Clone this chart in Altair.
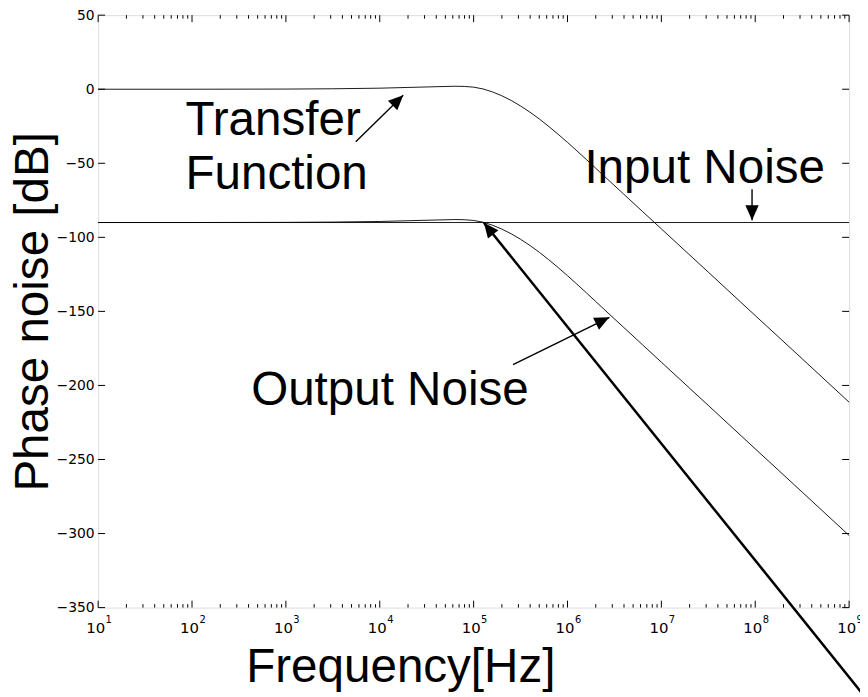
import math
import altair as alt
import pandas as pd

# ---------------- data ----------------
W, H = 758, 598
X_DOMAIN = [10, 1e9]
Y_DOMAIN = [-350, 50]

freq_exp = [1, 2, 3, 3.5, 4, 4.3, 4.6, 4.8, 4.9, 5.0, 5.1, 5.2, 5.3, 5.4, 5.5,
            5.6, 5.7, 5.8, 5.9, 6.0, 6.1, 6.2, 6.3, 6.4, 6.6, 6.8, 7.0, 7.5,
            8.0, 8.5, 9.0]
transfer_db = [0, 0, 0.1, 0.3, 0.7, 1.2, 1.7, 2.0, 1.9, 1.4, 0.2, -1.8, -4.4,
               -7.6, -11.3, -15.5, -20.1, -25.1, -30.4, -35.9, -41.6, -47.4,
               -53.3, -59.2, -70.9, -82.6, -94.3, -123.5, -152.8, -182.0, -211.3]
output_db = [-90, -90, -89.9, -89.7, -89.3, -88.8, -88.3, -88.0, -88.1, -88.6,
             -89.8, -91.8, -94.4, -97.6, -101.3, -105.5, -110.1, -115.1, -120.4,
             -125.9, -131.6, -137.4, -143.3, -149.2, -160.9, -172.6, -184.3,
             -213.5, -242.8, -272.0, -301.3]
input_freq_exp = [1, 9]
input_db = [-90, -90]

decade_exp = [1, 2, 3, 4, 5, 6, 7, 8, 9]
minor_mult = [2, 3, 4, 5, 6, 7, 8, 9]
y_ticks = [-350, -300, -250, -200, -150, -100, -50, 0, 50]

# annotation texts: (label, log10 f of left edge, dB of baseline)
text_labels = ["Transfer", "Function", "Input Noise", "Output Noise"]
text_fexp = [1.93, 1.93, 6.18, 2.63]
text_db = [-30.8, -67.6, -63.6, -213.5]

# arrows: tail (log10 f, dB) -> tip (log10 f, dB), line width
arrow_tail_fexp = [3.744, 7.966, 5.42, 9.14]
arrow_tail_db = [-35.5, -67.6, -186, -408]
arrow_tip_fexp = [4.25, 7.966, 6.446, 5.109]
arrow_tip_db = [-4.0, -88.4, -154, -90.2]
arrow_width = [1.4, 1.4, 1.4, 2.5]

FONT = "Liberation Sans"
TICKFONT = "DejaVu Sans"
BIG = 48

# ---------------- tables ----------------
curves = pd.DataFrame(
    [{"f": 10 ** e, "db": v, "series": "Transfer"} for e, v in zip(freq_exp, transfer_db)]
    + [{"f": 10 ** e, "db": v, "series": "Output"} for e, v in zip(freq_exp, output_db)]
    + [{"f": 10 ** e, "db": v, "series": "Input"} for e, v in zip(input_freq_exp, input_db)]
)

major = pd.DataFrame({"f": [10 ** e for e in decade_exp],
                      "exp": [str(e) for e in decade_exp]})
minor = pd.DataFrame({"f": [m * 10 ** e for e in decade_exp[:-1] for m in minor_mult]})
yt = pd.DataFrame({"v": y_ticks})


def px(fe):
    return (fe - math.log10(X_DOMAIN[0])) / (math.log10(X_DOMAIN[1]) - math.log10(X_DOMAIN[0])) * W


def py(v):
    return (Y_DOMAIN[1] - v) / (Y_DOMAIN[1] - Y_DOMAIN[0]) * H


arrows = []
for tf, td, hf, hd, w in zip(arrow_tail_fexp, arrow_tail_db, arrow_tip_fexp, arrow_tip_db, arrow_width):
    dx = px(hf) - px(tf)
    dy = py(hd) - py(td)
    ang = math.degrees(math.atan2(dx, -dy)) % 360
    arrows.append({"x": 10 ** tf, "y": td, "x2": 10 ** hf, "y2": hd, "w": w, "angle": ang})
arrows = pd.DataFrame(arrows)

texts = pd.DataFrame({"label": text_labels, "f": [10 ** e for e in text_fexp], "db": text_db})

# ---------------- scales ----------------
xs = alt.Scale(type="log", domain=X_DOMAIN, nice=False)
ys = alt.Scale(domain=Y_DOMAIN, nice=False, zero=False)

lines = alt.Chart(curves).mark_line(color="black", strokeWidth=0.9).encode(
    x=alt.X("f:Q", scale=xs, axis=alt.Axis(
        title="Frequency[Hz]", labels=False, ticks=False, domain=False, grid=False,
        titleFontSize=BIG, titleFont=FONT, titleFontWeight="normal", titleColor="black",
        titleX=305, titleY=75, titleAlign="center", titleBaseline="alphabetic")),
    y=alt.Y("db:Q", scale=ys, axis=alt.Axis(
        title="Phase noise [dB]", values=y_ticks, ticks=False, domain=False, grid=False,
        labelFontSize=14, labelFont=TICKFONT, labelColor="black", labelPadding=4,
        titleFontSize=BIG, titleFont=FONT, titleFontWeight="normal", titleColor="black",
        titleX=-51, titleY=H / 2, titleAngle=-90, titleAlign="center",
        titleBaseline="alphabetic")),
    detail="series:N",
)

tick_x_major_b = alt.Chart(major).mark_rule(color="black", strokeWidth=1).encode(
    x=alt.X("f:Q", scale=xs), y=alt.value(H), y2=alt.value(H - 7))
tick_x_major_t = alt.Chart(major).mark_rule(color="black", strokeWidth=1).encode(
    x=alt.X("f:Q", scale=xs), y=alt.value(0), y2=alt.value(7))
tick_x_minor_b = alt.Chart(minor).mark_rule(color="black", strokeWidth=1).encode(
    x=alt.X("f:Q", scale=xs), y=alt.value(H), y2=alt.value(H - 3.5))
tick_x_minor_t = alt.Chart(minor).mark_rule(color="black", strokeWidth=1).encode(
    x=alt.X("f:Q", scale=xs), y=alt.value(0), y2=alt.value(3.5))
tick_y_l = alt.Chart(yt).mark_rule(color="black", strokeWidth=1).encode(
    y=alt.Y("v:Q", scale=ys), x=alt.value(0), x2=alt.value(7))
tick_y_r = alt.Chart(yt).mark_rule(color="black", strokeWidth=1).encode(
    y=alt.Y("v:Q", scale=ys), x=alt.value(W), x2=alt.value(W - 7))

lab_ten = alt.Chart(major).mark_text(
    font=TICKFONT, fontSize=15, align="center", baseline="alphabetic", dx=-2.5, color="black"
).encode(x=alt.X("f:Q", scale=xs), y=alt.value(H + 26), text=alt.value("10"))
lab_exp = alt.Chart(major).mark_text(
    font=TICKFONT, fontSize=10, align="left", baseline="alphabetic", dx=7.5, color="black"
).encode(x=alt.X("f:Q", scale=xs), y=alt.value(H + 16), text="exp:N")

arrow_lines = alt.Chart(arrows).mark_rule(color="black").encode(
    x=alt.X("x:Q", scale=xs), x2="x2:Q",
    y=alt.Y("y:Q", scale=ys), y2="y2:Q",
    strokeWidth=alt.StrokeWidth("w:Q", scale=None, legend=None),
)
arrow_heads = alt.Chart(arrows).mark_point(
    shape="M0,0L-0.45,1L0.45,1Z", filled=True, color="black", opacity=1, size=900,
    strokeWidth=0,
).encode(
    x=alt.X("x2:Q", scale=xs), y=alt.Y("y2:Q", scale=ys),
    angle=alt.Angle("angle:Q", scale=None),
)

labels = alt.Chart(texts).mark_text(
    font=FONT, fontSize=BIG, align="left", baseline="alphabetic", color="black"
).encode(x=alt.X("f:Q", scale=xs), y=alt.Y("db:Q", scale=ys), text="label:N")

chart = alt.layer(
    lines, tick_x_major_b, tick_x_major_t, tick_x_minor_b, tick_x_minor_t,
    tick_y_l, tick_y_r, lab_ten, lab_exp, labels, arrow_lines, arrow_heads,
).properties(
    width=W, height=H,
    autosize=alt.AutoSizeParams(type="none"),
    padding={"left": 91, "top": 4, "right": 11, "bottom": 87},
).configure_view(
    stroke="black", strokeWidth=1.5
).configure(
    font=FONT, background="white"
)

chart.save("out.html", embed_options={"renderer": "svg", "actions": False})
